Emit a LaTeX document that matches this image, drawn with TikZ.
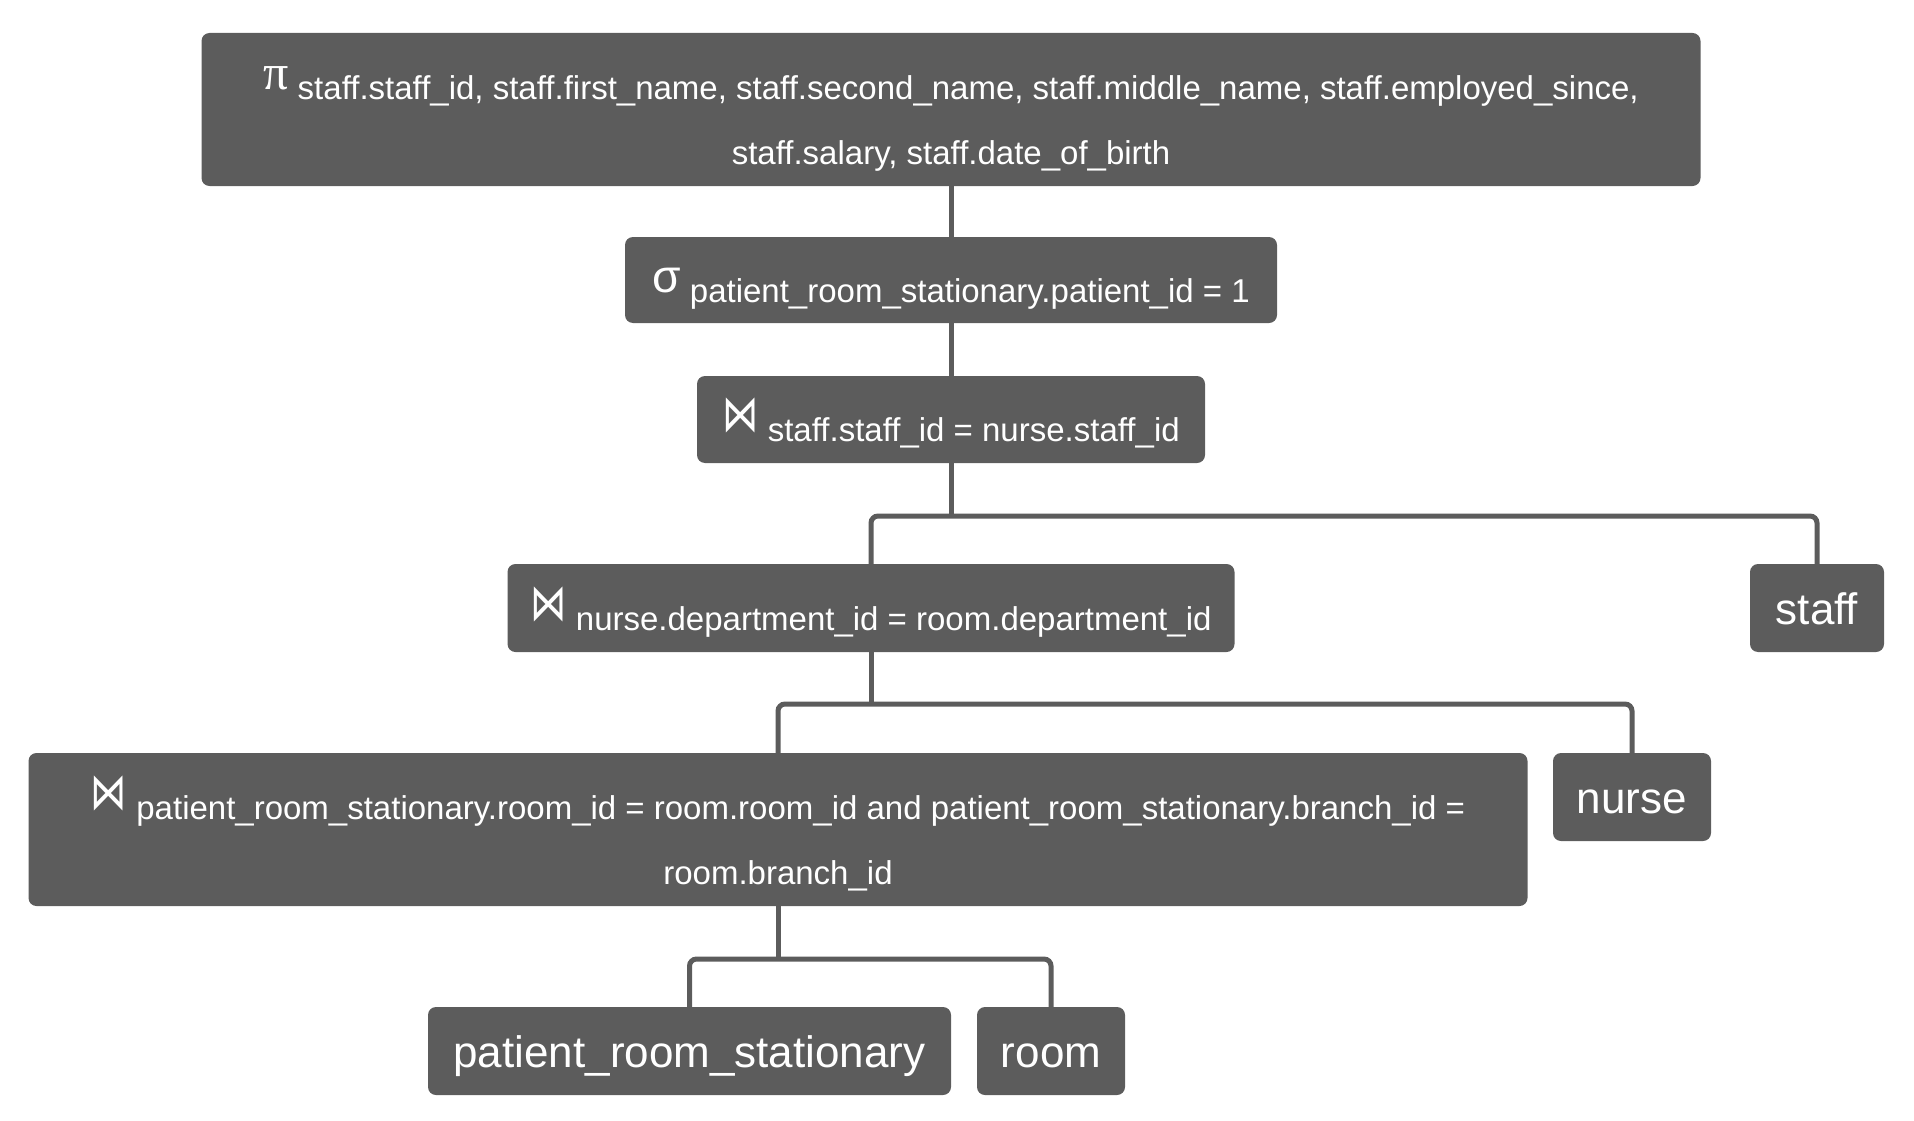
\documentclass[tikz,border=0pt]{standalone}
\usepackage{fontspec}
\setmainfont{Liberation Sans}
\newfontfamily\symfont{DejaVu Sans}
\newfontfamily\serifsym{Liberation Serif}
\definecolor{boxgray}{HTML}{5C5C5C}
\newcommand\opfont{\fontsize{33}{65}\selectfont}
\newcommand\leaffont{\fontsize{44}{52}\selectfont}
\newcommand\lbl[2]{\raisebox{-#1pt}[0pt][0pt]{#2}}
\newcommand\opsym[1]{\raisebox{10pt}{#1}}
\newcommand\sympi{\opsym{\serifsym\fontsize{50}{50}\selectfont π}}
\newcommand\symsigma{\opsym{\scalebox{1.4}{σ}}}
\newcommand\symjoin{\opsym{\scalebox{1.1}[1.55]{\symfont ⋈}}}
\newcommand\twolines[2]{\begin{tabular}[b]{@{}c@{}}#1\\#2\end{tabular}}
\tikzset{
  opbox/.style={fill=boxgray, rounded corners=8pt, inner sep=0pt, text=white, font=\opfont},
  leafbox/.style={fill=boxgray, rounded corners=8pt, inner sep=0pt, text=white, font=\leaffont},
  conn/.style={draw=boxgray, line width=5pt, rounded corners=7pt}
}
\begin{document}
\begin{tikzpicture}[x=1pt,y=-1pt]
\useasboundingbox (0,0) rectangle (1914,1121);
% nodes
\node[opbox, minimum width=1499pt, minimum height=153pt] (b1) at (951,109.5)
  {\lbl{55}{\twolines{\sympi{} staff.staff\_id, staff.first\_name, staff.second\_name, staff.middle\_name, staff.employed\_since,}{staff.salary, staff.date\_of\_birth}}};
\node[opbox, minimum width=652pt, minimum height=86pt] (b2) at (951,280)
  {\lbl{22}{\symsigma{} patient\_room\_stationary.patient\_id = 1}};
\node[opbox, minimum width=508pt, minimum height=87pt] (b3) at (951,419.5)
  {\lbl{22}{\symjoin{} staff.staff\_id = nurse.staff\_id}};
\node[opbox, minimum width=727pt, minimum height=88pt] (b4) at (871,608)
  {\lbl{22}{\symjoin{} nurse.department\_id = room.department\_id}};
\node[leafbox, minimum width=134pt, minimum height=88pt] (staff) at (1817,608)
  {\lbl{16}{staff}};
\node[opbox, minimum width=1499pt, minimum height=153pt] (b5) at (778,829.5)
  {\lbl{55}{\twolines{\symjoin{} patient\_room\_stationary.room\_id = room.room\_id and patient\_room\_stationary.branch\_id =}{room.branch\_id}}};
\node[leafbox, minimum width=158pt, minimum height=88pt] (nurse) at (1632,797)
  {\lbl{16}{nurse}};
\node[leafbox, minimum width=523pt, minimum height=88pt] (prs) at (689.5,1051)
  {\lbl{16}{patient\_room\_stationary}};
\node[leafbox, minimum width=148pt, minimum height=88pt] (room) at (1051,1051)
  {\lbl{16}{room}};
% junctions
\coordinate (j1) at (951,516);
\coordinate (j2) at (871,704);
\coordinate (j3) at (778,959);
% connectors
\draw[conn] (b1.south) -- (b2.north);
\draw[conn] (b2.south) -- (b3.north);
\draw[conn] (b3.south) -- (j1);
\draw[conn] (b4.north) |- (j1) -| (staff.north);
\draw[conn] (b4.south) -- (j2);
\draw[conn] (b5.north) |- (j2) -| (nurse.north);
\draw[conn] (b5.south) -- (j3);
\draw[conn] (prs.north) |- (j3) -| (room.north);
\end{tikzpicture}
\end{document}
